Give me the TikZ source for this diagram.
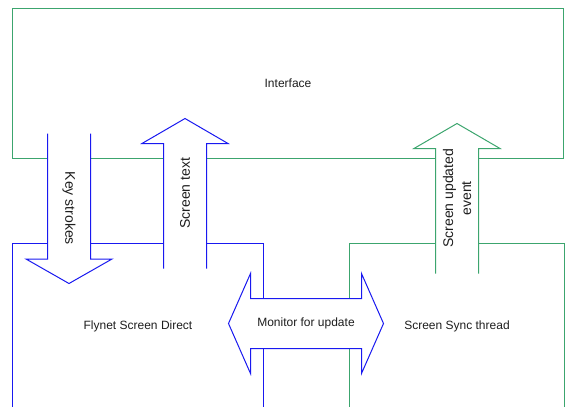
\documentclass[tikz,border=0pt]{standalone}
\usepackage{fontspec}
\setmainfont{Liberation Sans}

\definecolor{flowblue}{RGB}{25,25,240}
\definecolor{flowgreen}{RGB}{60,165,110}
\definecolor{labelgray}{RGB}{30,30,30}

% vertical block arrow, open at the tail: colour, x, tail y, head y, tip y
\newcommand{\vflow}[5]{%
  \fill[white] (#2-21.5,#3) -- (#2-21.5,#4) -- (#2-43,#4) -- (#2,#5)
    -- (#2+43,#4) -- (#2+21.5,#4) -- (#2+21.5,#3) -- cycle;
  \draw[#1, thin line] (#2-21.5,#3) -- (#2-21.5,#4) -- (#2-43,#4) -- (#2,#5)
    -- (#2+43,#4) -- (#2+21.5,#4) -- (#2+21.5,#3);}

\begin{document}
\begin{tikzpicture}[
        x=1pt, y=-1pt,
        thin line/.style={line width=1pt},
        block/.style={rectangle, inner sep=0pt, text=labelgray,
            font=\fontsize{12}{14}\selectfont},
        tag/.style={text=labelgray, align=center, inner sep=0pt,
            font=\fontsize{14}{18}\selectfont}
    ]
        \useasboundingbox (0,0) rectangle (565,407);

        % Threads and the interface
        \node[block, minimum width=551pt, minimum height=150pt] (iface) at (288,83.5) {Interface};
        \node[block, minimum width=251pt, minimum height=166.5pt] (direct) at (138,326.75) {Flynet Screen Direct};
        \node[block, minimum width=215pt, minimum height=165pt] (sync) at (457,326) {Screen Sync thread};
        \draw[flowgreen, thin line] (iface.south west) rectangle (iface.north east);
        \draw[flowblue, thin line] (direct.south west) |- (direct.north east) -- (direct.south east);
        \draw[flowgreen, thin line] (sync.south west) |- (sync.north east) -- (sync.south east);

        % Data passed between them
        \vflow{flowblue}{69}{133.5}{259}{283.5}
        \vflow{flowblue}{185}{268.5}{143.5}{118.5}
        \vflow{flowgreen}{457}{273.5}{148.5}{123.5}
        \filldraw[fill=white, draw=flowblue, thin line]
            (228.5,323.5) -- (250.5,273.5) -- (250.5,298.5) -- (361.5,298.5) -- (361.5,273.5)
            -- (383.5,323.5) -- (361.5,373.5) -- (361.5,348.5) -- (250.5,348.5) -- (250.5,373.5) -- cycle;

        \node[tag, rotate=-90] (keys) at (69,208.3) {Key strokes};
        \node[tag, rotate=90] (scrtext) at (185,193.3) {Screen text};
        \node[tag, rotate=90] (updated) at (457,198.3) {Screen updated\\event};
        \node[tag, font=\fontsize{12}{14}\selectfont] (monitor) at (306,323.3) {Monitor for update};
\end{tikzpicture}
\end{document}
